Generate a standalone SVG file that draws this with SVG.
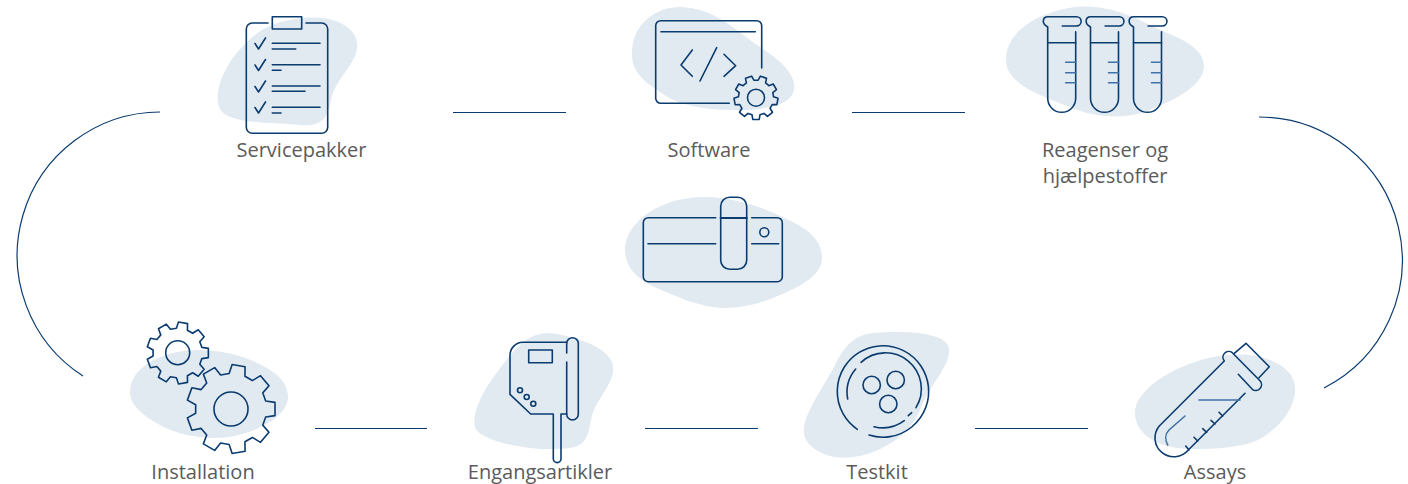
<svg xmlns="http://www.w3.org/2000/svg" xmlns:xlink="http://www.w3.org/1999/xlink" width="1408" height="484" viewBox="0 0 1408 484">
<style>
.b{fill:#e1e9f1;stroke:none}
.s{fill:none;stroke:#0b3c6f;stroke-width:1.6;stroke-linecap:round;stroke-linejoin:round}
.l{fill:none;stroke:#3f72a8;stroke-width:1.6;stroke-linecap:round}
.g{fill:none;stroke:#0b3c6f;stroke-linejoin:round}
.c{fill:none;stroke:#0b3c6f;stroke-width:1.2}
text{font-family:"Open Sans","Liberation Sans",sans-serif;font-size:20px;fill:#5a5a5a;text-anchor:middle;opacity:.99}
</style>
<defs>
<path id="gear" d="M.989,-.148L.989,.148L.779,.18L.713,.363L.853,.522L.663,.749L.481,.639L.313,.736L.317,.948L.026,1L-.042,.799L-.234,.765L-.367,.93L-.621,.783L-.546,.585L-.671,.436L-.879,.477L-.98,.199L-.794,.097L-.794,-.097L-.98,-.199L-.879,-.477L-.671,-.436L-.546,-.585L-.621,-.783L-.367,-.93L-.234,-.765L-.042,-.799L.026,-1L.317,-.948L.313,-.736L.481,-.639L.663,-.749L.853,-.522L.713,-.363L.779,-.18Z"/>
<g id="tube">
<path d="M1062.300,26H1076.500A4.650,4.650 0 0 0 1076.500,16.700H1048C1045,16.700 1043.300,18.700 1043.300,21.300C1043.300,24 1045,25.500 1047.700,27V98.300A14,14 0 0 0 1075.700,98.300V31.700"/>
<path d="M1047.700,42.700H1075.700"/>
<path class="l" d="M1065.700,62.300H1075.700M1065.700,72.700H1075.700M1065.700,82.700H1075.700"/>
</g>
</defs>
<g id="connectors">
<path class="c" d="M160,112A143.400,143.400 0 0 0 83,376"/>
<path class="c" d="M1259,117A143.300,143.300 0 0 1 1324,388"/>
<path class="c" d="M453,112.500H566M852,112.500H965M315,428.500H427M645,428.500H758M975,428.500H1088"/>
</g>
<g id="servicepakker">
<path class="b" d="M290,20C315,14 352,18 357,42C360,62 335,78 331,100C328,118 322,127 300,125C270,122 235,124 222,112C212,100 220,75 235,55C250,37 265,24 290,20Z"/>
<path class="s" d="M268,23H252.300A6,6 0 0 0 246.300,29V127.300A6,6 0 0 0 252.300,133.300H321.700A6,6 0 0 0 327.700,127.300V29A6,6 0 0 0 321.700,23H306"/>
<rect class="s" x="272.300" y="16.700" width="29.400" height="12.300"/>
<path class="s" d="M255,43.500L258.500,49L265.500,38M255,65L258.500,70.500L265.500,59.500M255,86.500L258.500,92L265.500,81M255,107.500L258.500,113L265.500,102"/>
<path class="s" d="M272.300,43.300H320M272.300,49H295.700M272.300,64.700H320M272.300,70.300H281M272.300,86H320M272.300,91.300H305M272.300,107.300H320M272.300,113H281"/>
<text x="301.500" y="157">Servicepakker</text>
</g>
<g id="software">
<path class="b" d="M632,55C631,25 655,7 680,7C715,8 735,30 760,47C780,60 797,75 794,90C790,105 770,108 750,110C715,111 680,108 660,92C645,82 632,72 632,55Z"/>
<path class="s" d="M761.700,68V25.700A5,5 0 0 0 756.700,20.700H660.700A5,5 0 0 0 655.700,25.700V98.300A5,5 0 0 0 660.700,103.300H729.300"/>
<path class="s" d="M661,31.700H755.300M692.300,50L681,65L692.300,76.300M724,54.300L735.700,65.700L724,76.300M716.700,47.700L700,81"/>
<use xlink:href="#gear" href="#gear" class="g" style="stroke-width:.073" transform="translate(756 97.700) rotate(-30) scale(22)"/>
<circle class="s" cx="756" cy="97.700" r="8.500"/>
<text x="709" y="157">Software</text>
</g>
<g id="reagenser">
<path class="b" d="M1006,60C1006,30 1040,12 1075,7C1110,3 1140,20 1165,32C1190,42 1204,52 1204,66C1204,85 1175,100 1150,110C1125,120 1095,118 1070,107C1045,97 1006,85 1006,60Z"/>
<g class="s">
<use xlink:href="#tube" href="#tube"/>
<use xlink:href="#tube" href="#tube" x="42.800"/>
<use xlink:href="#tube" href="#tube" x="85.800"/>
</g>
<text x="1105" y="157">Reagenser og</text>
<text x="1105" y="183">hjælpestoffer</text>
</g>
<g id="center">
<path class="b" d="M625,250C625,222 660,197 705,197C740,197 775,212 800,226C815,235 822,245 822,258C822,275 800,287 780,295C765,302 745,308 725,308C700,308 675,296 650,285C635,277 625,265 625,250Z"/>
<path class="s" d="M715.700,217.700H648.300A5,5 0 0 0 643.300,222.700V276.700A5,5 0 0 0 648.300,281.700H777.300A5,5 0 0 0 782.300,276.700V222.700A5,5 0 0 0 777.300,217.700H751.700"/>
<path class="s" d="M648,243.700H715.700M751.700,243.700H778.700"/>
<circle class="s" cx="764.300" cy="232.300" r="4.500"/>
<rect class="s" x="720.700" y="197.300" width="26" height="72" rx="9"/>
<path class="s" style="stroke-width:2.200" d="M720.700,218H746.700"/>
</g>
<g id="installation">
<path class="b" d="M130,392C130,368 160,350 200,350C230,350 262,362 277,375C285,382 288,390 288,398C287,415 262,430 235,436C210,441 180,436 160,425C142,415 130,405 130,392Z"/>
<use xlink:href="#gear" href="#gear" class="g" style="stroke-width:.052" transform="translate(177.700 353) scale(31)"/>
<circle class="s" cx="177.700" cy="352.700" r="12"/>
<use xlink:href="#gear" href="#gear" class="g" style="stroke-width:.036" transform="translate(231 409) scale(44.500)"/>
<circle class="s" cx="231" cy="409" r="17"/>
<text x="203" y="479">Installation</text>
</g>
<g id="engangsartikler">
<path class="b" d="M548,333C570,335 605,345 612,362C618,378 600,395 593,412C588,430 590,445 570,448C540,452 495,445 478,432C468,422 480,395 495,375C510,355 525,333 548,333Z"/>
<path class="s" d="M566.700,342.300H523A13,13 0 0 0 510,356V394.300L530.700,414H553.300V458.800A3.850,3.850 0 0 0 561,458.800V414H566.700"/>
<path class="s" d="M566.700,353V343.500A5.800,5.800 0 0 1 578.300,343.500V414.200A5.800,5.800 0 0 1 566.700,414.200V362"/>
<rect class="s" x="528.700" y="350" width="23.600" height="12.700"/>
<circle class="s" cx="520" cy="390.300" r="2.500"/>
<circle class="s" cx="526.700" cy="397" r="2.500"/>
<circle class="s" cx="533.300" cy="403.700" r="2.500"/>
<text x="540" y="479">Engangsartikler</text>
</g>
<g id="testkit">
<path class="b" d="M873,333C895,331 945,330 949,348C951,365 930,385 922,405C915,425 900,440 880,449C865,456 850,459 835,457C815,453 802,442 804,428C806,410 825,385 835,365C845,345 855,335 873,333Z"/>
<path class="s" d="M869,435A45.700,45.700 0 1 0 857.300,429.300"/>
<path class="s" d="M861,362.300A36,36 0 0 1 916,407.700M911.700,412.700L908.300,415.700M904.300,420.700A36,36 0 0 1 874,426.700M847.700,399A36,36 0 0 1 855.700,369"/>
<circle class="s" cx="871.700" cy="385" r="8.700"/>
<circle class="s" cx="895.700" cy="380" r="8.700"/>
<circle class="s" cx="888.300" cy="404" r="8.700"/>
<text x="877" y="479">Testkit</text>
</g>
<g id="assays">
<path class="b" d="M1135,413C1135,392 1165,372 1195,362C1220,353 1250,352 1270,360C1288,367 1296,378 1295,392C1293,410 1280,428 1258,440C1240,448 1215,449 1190,449C1160,449 1135,435 1135,413Z"/>
<path class="s" d="M1238.300,374.300L1252.300,389.300A5.800,5.800 0 0 0 1260,380.700L1232.300,352.700A5.800,5.800 0 0 0 1224.300,361L1159.300,426A17.500,17.500 0 0 0 1188.300,450L1245,393.300"/>
<path class="s" d="M1234.300,353.300L1246,343.300L1269.300,366.700L1259,377.700"/>
<path class="l" d="M1199,400H1240M1185,416L1169,430C1165,434 1165,440 1167.700,445"/>
<path class="s" d="M1189,450L1185.700,446M1197.700,441L1194,437.300M1206.700,432.300L1202.700,428.700M1215,424L1211,420.300M1222.700,416L1219,412.300"/>
<text x="1215" y="479">Assays</text>
</g>
</svg>
